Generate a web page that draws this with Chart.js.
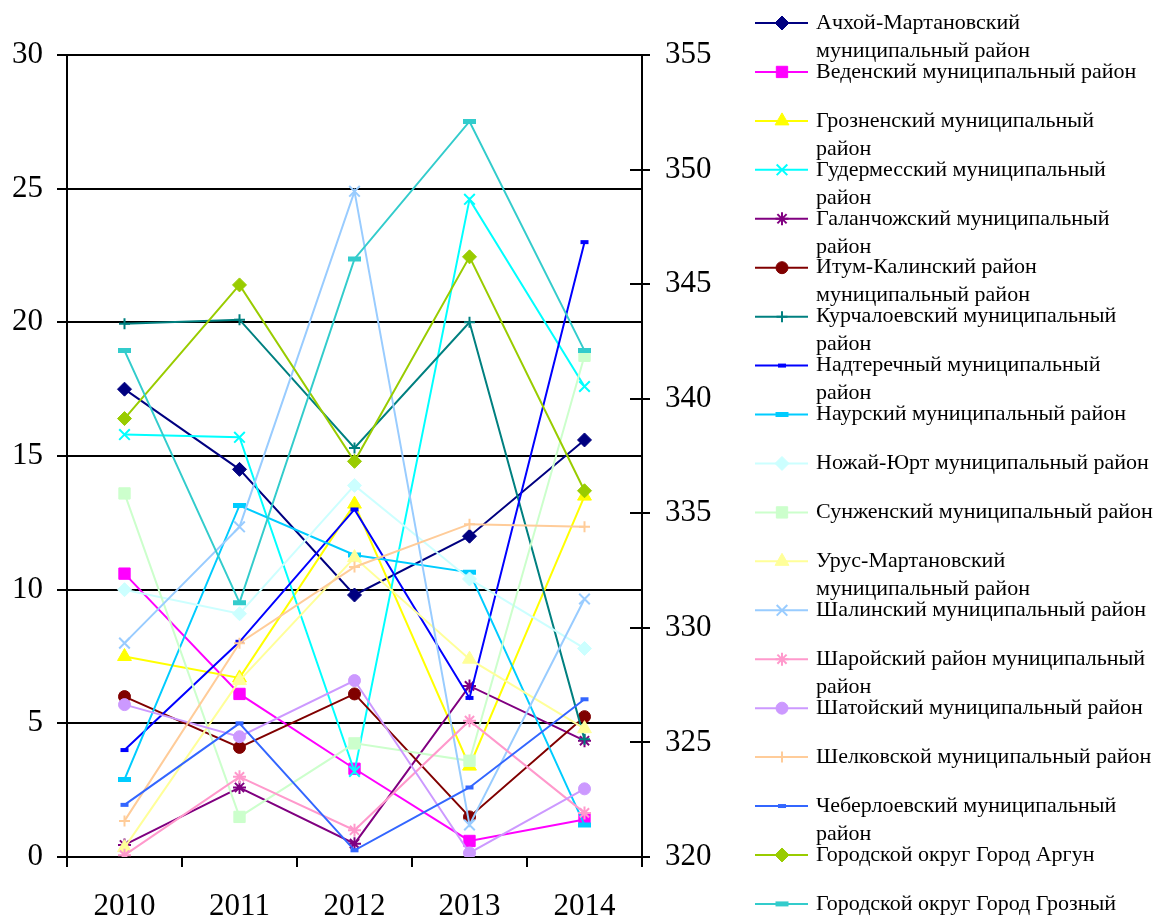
<!DOCTYPE html>
<html>
<head>
<meta charset="utf-8">
<script src="https://cdn.jsdelivr.net/npm/chart.js@4/dist/chart.umd.min.js"></script>
<style>
  html, body { margin: 0; padding: 0; background: #ffffff; }
  #wrap { width: 1157px; height: 917px; position: relative; }
</style>
</head>
<body>
<div id="wrap"><canvas id="chart"></canvas></div>
<script>
// Years on the category axis
const years = ['2010', '2011', '2012', '2013', '2014'];

// Left-axis series (0–30)
const achkhoyMartan  = [17.5, 14.5, 9.8, 12.0, 15.6];
const vedeno         = [10.6, 6.1, 3.3, 0.6, 1.4];
const grozny_raion   = [7.5, 6.7, 13.2, 3.4, 13.5];
const gudermes       = [15.8, 15.7, 3.2, 24.6, 17.6];
const galanchozh     = [0.45, 2.6, 0.5, 6.4, 4.35];
const itumKali       = [6.0, 4.1, 6.1, 1.5, 5.25];
const kurchaloy      = [19.95, 20.1, 15.3, 20.0, 4.4];
const nadterechny    = [4.0, 8.05, 13.0, 5.95, 23.0];
const naur           = [2.9, 13.15, 11.3, 10.65, 1.2];
const nozhaiYurt     = [10.0, 9.1, 13.9, 10.4, 7.8];
const sunzha         = [13.6, 1.5, 4.25, 3.6, 18.75];
const urusMartan     = [0.35, 6.6, 11.2, 7.4, 4.8];
const shali          = [8.0, 12.35, 24.9, 1.2, 9.65];
const sharoy         = [0.07, 3.0, 1.0, 5.1, 1.65];
const shatoy         = [5.7, 4.5, 6.6, 0.15, 2.55];
const shelkovskaya   = [1.35, 8.0, 10.85, 12.45, 12.35];
const cheberloy      = [1.95, 5.0, 0.25, 2.6, 5.9];
const argun          = [16.4, 21.4, 14.8, 22.45, 13.7];

// Right-axis series (320–355)
const groznyCity     = [342.1, 331.1, 346.1, 352.1, 342.1];

// Axis tick ranges
const leftTicks  = { min: 0, max: 30, step: 5 };
const rightTicks = { min: 320, max: 355, step: 5 };

const seriesNames = [
  'Ачхой-Мартановский муниципальный район',
  'Веденский муниципальный район',
  'Грозненский муниципальный район',
  'Гудермесский муниципальный район',
  'Галанчожский муниципальный район',
  'Итум-Калинский район муниципальный район',
  'Курчалоевский муниципальный район',
  'Надтеречный муниципальный район',
  'Наурский муниципальный район',
  'Ножай-Юрт муниципальный район',
  'Сунженский муниципальный район',
  'Урус-Мартановский муниципальный район',
  'Шалинский муниципальный район',
  'Шаройский район муниципальный район',
  'Шатойский муниципальный район',
  'Шелковской муниципальный район',
  'Чеберлоевский муниципальный район',
  'Городской округ Город Аргун',
  'Городской округ Город Грозный'
];

// Legend entries, already broken into lines
const legendLines = [
  ['Ачхой-Мартановский', 'муниципальный район'],
  ['Веденский муниципальный район'],
  ['Грозненский муниципальный', 'район'],
  ['Гудермесский муниципальный', 'район'],
  ['Галанчожский муниципальный', 'район'],
  ['Итум-Калинский район', 'муниципальный район'],
  ['Курчалоевский муниципальный', 'район'],
  ['Надтеречный муниципальный', 'район'],
  ['Наурский муниципальный район'],
  ['Ножай-Юрт муниципальный район'],
  ['Сунженский муниципальный район'],
  ['Урус-Мартановский', 'муниципальный район'],
  ['Шалинский муниципальный район'],
  ['Шаройский район муниципальный', 'район'],
  ['Шатойский муниципальный район'],
  ['Шелковской муниципальный район'],
  ['Чеберлоевский муниципальный', 'район'],
  ['Городской округ Город Аргун'],
  ['Городской округ Город Грозный']
];

const seriesValues = [
  achkhoyMartan, vedeno, grozny_raion, gudermes, galanchozh, itumKali,
  kurchaloy, nadterechny, naur, nozhaiYurt, sunzha, urusMartan, shali,
  sharoy, shatoy, shelkovskaya, cheberloy, argun, groznyCity
];

// Line colours and marker styles
const seriesColors = [
  '#000080', '#FF00FF', '#FFFF00', '#00FFFF', '#800080', '#800000',
  '#008080', '#0000FF', '#00CCFF', '#CCFFFF', '#CCFFCC', '#FFFF99',
  '#99CCFF', '#FF99CC', '#CC99FF', '#FFCC99', '#3366FF', '#99CC00', '#33CCCC'
];
const markerStyles = [
  { style: 'rectRot',  r: 7,   bw: 1 },
  { style: 'rect',     r: 8,   bw: 1 },
  { style: 'triangle', r: 8,   bw: 1 },
  { style: 'crossRot', r: 7.5, bw: 2 },
  { style: 'star',     r: 6.5, bw: 2 },
  { style: 'circle',   r: 6,   bw: 1 },
  { style: 'cross',    r: 5.5, bw: 2 },
  { style: 'line',     r: 4,   bw: 4 },
  { style: 'line',     r: 6.5, bw: 5 },
  { style: 'rectRot',  r: 7,   bw: 1 },
  { style: 'rect',     r: 8,   bw: 1 },
  { style: 'triangle', r: 8,   bw: 1 },
  { style: 'crossRot', r: 7.5, bw: 2 },
  { style: 'star',     r: 6.5, bw: 2 },
  { style: 'circle',   r: 6,   bw: 1 },
  { style: 'cross',    r: 5.5, bw: 2 },
  { style: 'line',     r: 4,   bw: 4 },
  { style: 'rectRot',  r: 7,   bw: 1 },
  { style: 'line',     r: 6.5, bw: 5 }
];

const SERIF = '"Liberation Serif", "Times New Roman", serif';

const datasets = seriesValues.map((vals, i) => ({
  label: seriesNames[i],
  data: vals,
  yAxisID: i === seriesValues.length - 1 ? 'y2' : 'y',
  borderColor: seriesColors[i],
  backgroundColor: seriesColors[i],
  borderWidth: 2,
  pointStyle: markerStyles[i].style,
  pointRadius: markerStyles[i].r,
  pointBorderWidth: markerStyles[i].bw,
  pointBackgroundColor: seriesColors[i],
  pointBorderColor: seriesColors[i],
  tension: 0,
  order: -i
}));

// Right-axis tick marks cross the axis line; draw the inner half here
const crossTicks = {
  id: 'crossTicks',
  afterDraw(chart) {
    const s = chart.scales.y2;
    const ctx = chart.ctx;
    ctx.save();
    ctx.strokeStyle = '#000';
    ctx.lineWidth = 2;
    s.ticks.forEach(t => {
      const py = Math.round(s.getPixelForValue(t.value));
      ctx.beginPath();
      ctx.moveTo(s.left - 12, py);
      ctx.lineTo(s.left, py);
      ctx.stroke();
    });
    ctx.restore();
  }
};

// Legend column on the right, with wrapped entries
const sideLegend = {
  id: 'sideLegend',
  afterDraw(chart) {
    const ctx = chart.ctx;
    const x0 = 755, x1 = 808, xm = 782, xt = 816;
    const top = 23, step = 48.94, lineGap = 28;
    ctx.save();
    chart.data.datasets.forEach((ds, i) => {
      const y = top + i * step;
      ctx.strokeStyle = ds.borderColor;
      ctx.lineWidth = 2;
      ctx.beginPath();
      ctx.moveTo(x0, y);
      ctx.lineTo(x1, y);
      ctx.stroke();
      ctx.fillStyle = ds.pointBackgroundColor;
      ctx.strokeStyle = ds.pointBorderColor;
      ctx.lineWidth = ds.pointBorderWidth;
      Chart.helpers.drawPoint(ctx, {
        pointStyle: ds.pointStyle,
        rotation: 0,
        radius: ds.pointRadius,
        borderWidth: ds.pointBorderWidth
      }, xm, y);
      ctx.fillStyle = '#000';
      ctx.font = '22px ' + SERIF;
      ctx.textBaseline = 'middle';
      ctx.textAlign = 'left';
      legendLines[i].forEach((line, k) => ctx.fillText(line, xt, y + k * lineGap));
    });
    ctx.restore();
  }
};

new Chart(document.getElementById('chart'), {
  type: 'line',
  data: { labels: years, datasets },
  options: {
    responsive: true,
    maintainAspectRatio: false,
    animation: false,
    layout: { padding: { top: 55, right: 435, bottom: 0, left: 0 } },
    plugins: {
      legend: { display: false },
      tooltip: { enabled: false },
      title: { display: false }
    },
    scales: {
      x: {
        offset: true,
        grid: {
          offset: true,
          drawOnChartArea: false,
          drawTicks: true,
          tickLength: 10,
          color: '#000',
          lineWidth: 2
        },
        border: { color: '#000', width: 2 },
        ticks: { color: '#000', font: { family: SERIF, size: 31 }, padding: 21 },
        afterFit: s => { s.height = 60; }
      },
      y: {
        position: 'left',
        min: leftTicks.min,
        max: leftTicks.max,
        grid: { color: '#000', lineWidth: 2, tickLength: 10 },
        border: { color: '#000', width: 2 },
        ticks: {
          stepSize: leftTicks.step,
          color: '#000',
          padding: 14,
          font: { family: SERIF, size: 31 }
        },
        afterFit: s => { s.width = 67; }
      },
      y2: {
        position: 'right',
        min: rightTicks.min,
        max: rightTicks.max,
        grid: { drawOnChartArea: false, color: '#000', lineWidth: 2, tickLength: 8 },
        border: { color: '#000', width: 2 },
        ticks: {
          stepSize: rightTicks.step,
          color: '#000',
          padding: 15,
          font: { family: SERIF, size: 31 }
        },
        afterFit: s => { s.width = 80; }
      }
    }
  },
  plugins: [crossTicks, sideLegend]
});
</script>
</body>
</html>
